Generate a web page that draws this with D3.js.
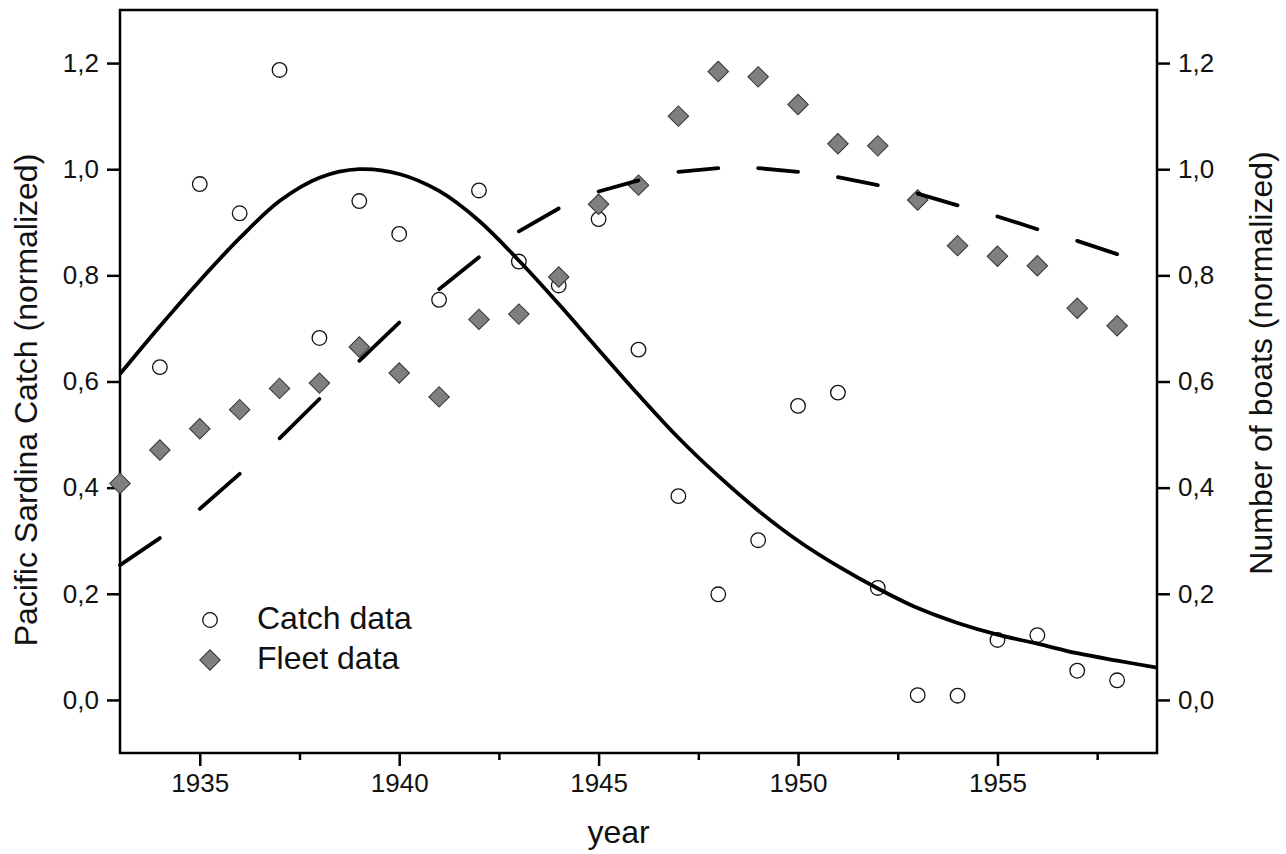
<!DOCTYPE html>
<html>
<head>
<meta charset="utf-8">
<script src="https://cdn.jsdelivr.net/npm/d3@7"></script>
<style>
  body { margin: 0; background: #fff; }
  svg { display: block; font-family: "Liberation Sans", Arial, sans-serif; }
</style>
</head>
<body>
<div id="chart"></div>
<script>
// Pacific sardina: catch vs fleet, both normalized

const years = d3.range(1933, 1960);            // 1933 .. 1959
const catchYears = d3.range(1934, 1959);       // circles
const catchValues = [0.627, 0.972, 0.917, 1.187, 0.682, 0.940, 0.878, 0.754, 0.960, 0.826,
                     0.781, 0.906, 0.660, 0.384, 0.199, 0.301, 0.554, 0.579, 0.211, 0.009,
                     0.008, 0.113, 0.122, 0.055, 0.037];
const fleetYears = d3.range(1933, 1959);       // diamonds
const fleetValues = [0.408, 0.471, 0.511, 0.547, 0.587, 0.597, 0.665, 0.616, 0.571, 0.717,
                     0.727, 0.797, 0.934, 0.970, 1.100, 1.184, 1.174, 1.122, 1.048, 1.044,
                     0.942, 0.856, 0.836, 0.818, 0.738, 0.705];
// fitted curves
const catchFit = [0.614, 0.704, 0.790, 0.870, 0.940, 0.984, 1.000, 0.991, 0.959, 0.903,
                  0.828, 0.746, 0.660, 0.575, 0.494, 0.422, 0.357, 0.300, 0.252, 0.210,
                  0.173, 0.145, 0.123, 0.106, 0.088, 0.074, 0.061];
const fleetFit = [0.254, 0.305, 0.360, 0.426, 0.493, 0.567, 0.639, 0.711, 0.774, 0.834,
                  0.883, 0.926, 0.958, 0.979, 0.995, 1.002, 1.002, 0.995, 0.985, 0.970,
                  0.954, 0.932, 0.911, 0.887, 0.865, 0.840, 0.818];
const xMajorTicks = [1935, 1940, 1945, 1950, 1955];
const xMinorTicks = [1937.5, 1942.5, 1947.5, 1952.5, 1957.5];
const yTicks = [0, 0.2, 0.4, 0.6, 0.8, 1.0, 1.2];
const legendLabels = ["Catch data", "Fleet data"];

const W = 1286, H = 854;
const margin = {top: 10, right: 129, bottom: 101, left: 120};
const width = W - margin.left - margin.right;
const height = H - margin.top - margin.bottom;

const svg = d3.select("#chart").append("svg")
    .attr("width", W)
    .attr("height", H);

const g = svg.append("g")
    .attr("transform", `translate(${margin.left},${margin.top})`);

const x = d3.scaleLinear().domain([1933, 1959]).range([0, width]);
const yL = d3.scaleLinear().domain([-0.1, 1.3]).range([height, 0]);
const yR = d3.scaleLinear().domain([-0.1, 1.3]).range([height, 0]);

const comma = d3.formatLocale({decimal: ",", thousands: ".", grouping: [3], currency: ["", ""]}).format(".1f");

// axes
function styleAxis(sel) {
    sel.select(".domain").remove();
    sel.selectAll(".tick line").attr("stroke", "#000").attr("stroke-width", 2.5);
    sel.selectAll(".tick text").attr("fill", "#111").style("font-size", "26px");
}

g.append("g")
    .attr("transform", `translate(0,${height})`)
    .call(d3.axisBottom(x).tickValues(xMajorTicks).tickSize(13).tickPadding(8).tickFormat(d3.format("d")))
    .call(styleAxis);

g.append("g")
    .attr("transform", `translate(0,${height})`)
    .call(d3.axisBottom(x).tickValues(xMinorTicks).tickSize(7).tickFormat(""))
    .call(styleAxis);

g.append("g")
    .call(d3.axisLeft(yL).tickValues(yTicks).tickSize(13).tickPadding(8).tickFormat(comma))
    .call(styleAxis);

g.append("g")
    .attr("transform", `translate(${width},0)`)
    .call(d3.axisRight(yR).tickValues(yTicks).tickSize(13).tickPadding(8).tickFormat(comma))
    .call(styleAxis);

// frame
g.append("rect")
    .attr("width", width)
    .attr("height", height)
    .attr("fill", "none")
    .attr("stroke", "#000")
    .attr("stroke-width", 2.5);

// axis titles
svg.append("text")
    .attr("x", margin.left + x(1945.5))
    .attr("y", 843)
    .attr("text-anchor", "middle")
    .style("font-size", "32px")
    .attr("fill", "#111")
    .text("year");

svg.append("text")
    .attr("transform", "translate(37,400) rotate(-90)")
    .attr("text-anchor", "middle")
    .style("font-size", "32px")
    .attr("fill", "#111")
    .text("Pacific Sardina Catch (normalized)");

svg.append("text")
    .attr("transform", "translate(1272,363) rotate(-90)")
    .attr("text-anchor", "middle")
    .style("font-size", "32px")
    .attr("fill", "#111")
    .text("Number of boats (normalized)");

const plot = g.append("g");

// catch circles
plot.selectAll("circle.catch")
    .data(catchYears.map((yr, i) => ({yr, v: catchValues[i]})))
    .join("circle")
    .attr("class", "catch")
    .attr("cx", d => x(d.yr))
    .attr("cy", d => yL(d.v))
    .attr("r", 7.3)
    .attr("fill", "#fff")
    .attr("stroke", "#111")
    .attr("stroke-width", 1.3);

// fleet diamonds
const diamond = d3.symbol().type(d3.symbolSquare).size(210);
plot.selectAll("path.fleet")
    .data(fleetYears.map((yr, i) => ({yr, v: fleetValues[i]})))
    .join("path")
    .attr("class", "fleet")
    .attr("d", diamond)
    .attr("transform", d => `translate(${x(d.yr)},${yR(d.v)}) rotate(45)`)
    .attr("fill", "#7f7f7f")
    .attr("stroke", "#333")
    .attr("stroke-width", 1);

// solid fit (catch)
const line = d3.line().curve(d3.curveCatmullRom).x(d => x(d.yr)).y(d => yL(d.v));
plot.append("path")
    .datum(years.map((yr, i) => ({yr, v: catchFit[i]})))
    .attr("fill", "none")
    .attr("stroke", "#000")
    .attr("stroke-width", 3.8)
    .attr("d", line);

// dashed fit (fleet): one dash per alternate year
const fleetPts = years.map((yr, i) => ({yr, v: fleetFit[i]}));
const dashLine = d3.line().x(d => x(d.yr)).y(d => yR(d.v));
for (let i = 0; i < fleetPts.length - 1; i += 2) {
    plot.append("path")
        .datum([fleetPts[i], fleetPts[i + 1]])
        .attr("fill", "none")
        .attr("stroke", "#000")
        .attr("stroke-width", 3.8)
        .attr("stroke-linecap", "round")
        .attr("d", dashLine);
}

// legend
const legend = svg.append("g").attr("transform", "translate(210,620)");
legend.append("circle")
    .attr("r", 7.3).attr("fill", "#fff").attr("stroke", "#111").attr("stroke-width", 1.3);
legend.append("path")
    .attr("d", diamond)
    .attr("transform", "translate(0,40) rotate(45)")
    .attr("fill", "#7f7f7f").attr("stroke", "#333");
legend.selectAll("text")
    .data(legendLabels)
    .join("text")
    .attr("x", 47)
    .attr("y", (d, i) => i * 40 + 9)
    .style("font-size", "32px")
    .attr("fill", "#111")
    .text(d => d);
</script>
</body>
</html>
